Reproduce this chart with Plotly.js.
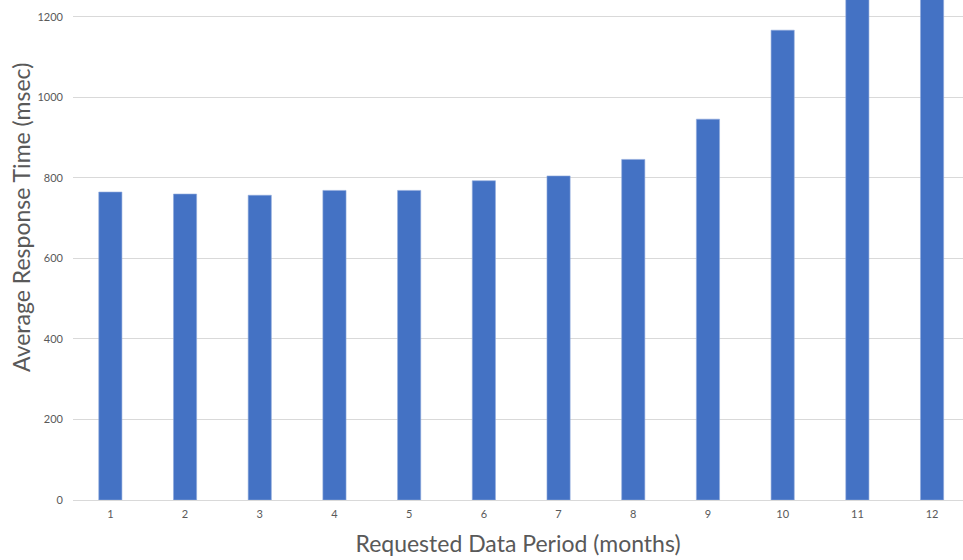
<!DOCTYPE html>
<html>
<head>
<meta charset="utf-8">
<script src="https://cdn.plot.ly/plotly-3.0.1.min.js"></script>
<style>html,body{margin:0;padding:0;background:#fff;}#chart{width:963px;height:560px;}</style>
</head>
<body>
<div id="chart"></div>
<script>
const months = [1, 2, 3, 4, 5, 6, 7, 8, 9, 10, 11, 12];
const responseTimes = [765, 760, 757, 769, 769, 793, 805, 846, 946, 1167, 1300, 1320];
const yTicks = [0, 200, 400, 600, 800, 1000, 1200];

const trace = {
  type: 'bar',
  x: months,
  y: responseTimes,
  marker: {color: '#4472C4', line: {color: '#8eaadc', width: 0.6}},
  hoverinfo: 'x+y'
};

const layout = {
  width: 963,
  height: 560,
  margin: {l: 73, r: 0, t: 0, b: 60},
  paper_bgcolor: '#ffffff',
  plot_bgcolor: '#ffffff',
  bargap: 0.69,
  showlegend: false,
  font: {family: 'Lato, "Open Sans", sans-serif', color: '#595959'},
  xaxis: {
    range: [0.5, 12.414],
    tickvals: months,
    ticktext: months.map(String),
    tickfont: {size: 11, color: '#595959'},
    showgrid: false,
    zeroline: false,
    showline: false,
    ticks: '',
    ticklabelstandoff: 6,
    title: {text: 'Requested Data Period (months)', font: {size: 23, color: '#595959'}, standoff: 16}
  },
  yaxis: {
    range: [0, 1242],
    tickvals: yTicks,
    tickfont: {size: 11, color: '#595959'},
    showgrid: true,
    gridcolor: '#d9d9d9',
    gridwidth: 1,
    zeroline: true,
    zerolinecolor: '#d9d9d9',
    zerolinewidth: 1,
    showline: false,
    ticks: '',
    ticklabelstandoff: 9
  },
  annotations: [{
    text: 'Average Response Time (msec)',
    xref: 'paper', yref: 'paper',
    x: -73/890, xanchor: 'left',
    y: (500 - 218) / 500, yanchor: 'middle',
    xshift: 5,
    textangle: -90,
    showarrow: false,
    font: {size: 23, color: '#595959', family: 'Lato, "Open Sans", sans-serif'}
  }]
};

Plotly.newPlot('chart', [trace], layout, {displayModeBar: false, staticPlot: true});
</script>
</body>
</html>
